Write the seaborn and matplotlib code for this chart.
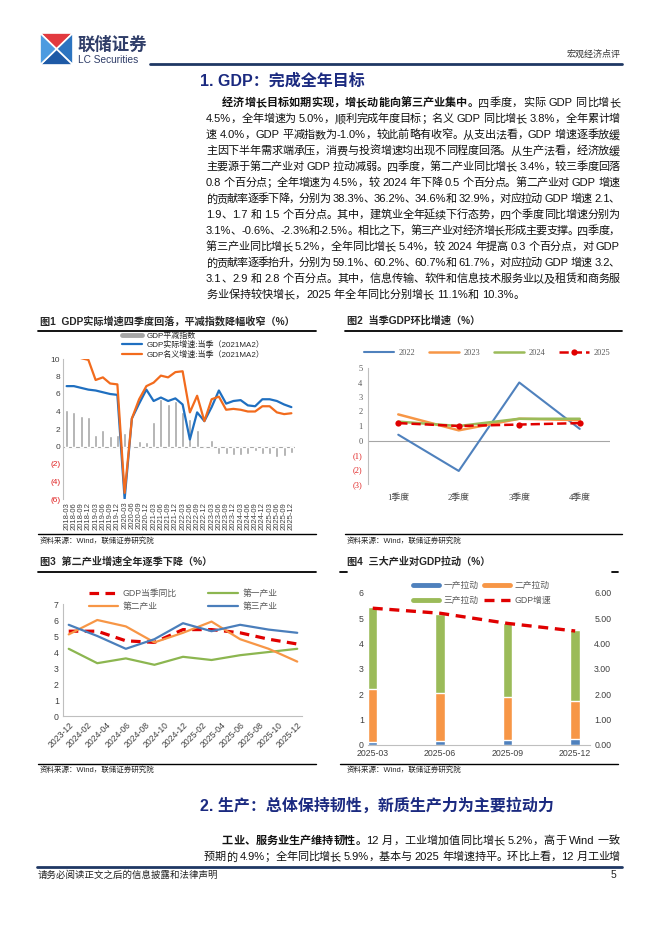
import re
import numpy as np
import seaborn as sns
import matplotlib
matplotlib.use("Agg")
import matplotlib.pyplot as plt
from matplotlib.lines import Line2D
from matplotlib.patches import Polygon

# ---------------- 图1 数据 ----------------
quarters = [f"{y}-{m}" for y in range(2018, 2026) for m in ("03", "06", "09", "12")]
deflator = [4.2, 4.0, 3.5, 3.4, 1.3, 1.9, 1.2, 1.3, 1.5, -0.2, 0.6, 0.5,
            2.8, 5.4, 4.9, 5.2, 3.9, 3.1, 1.9, -0.1, 0.8, -0.8, -0.8, -1.0,
            -1.0, -0.8, -0.5, -0.8, -0.8, -1.2, -1.1, -0.7]
real_gdp = [6.9, 6.9, 6.7, 6.5, 6.4, 6.2, 6.0, 5.9, -6.0, 3.2, 4.9, 6.5,
            5.2, 5.6, 5.2, 5.5, 4.8, 0.8, 3.9, 2.9, 4.5, 6.4, 4.9, 5.2,
            5.3, 4.7, 4.6, 5.4, 5.4, 5.2, 4.8, 4.5]
nominal_gdp = [10.5, 10.4, 10.1, 9.9, 7.6, 7.9, 7.2, 7.1, -5.3, 3.2, 5.4, 6.9,
               7.3, 8.1, 7.9, 8.5, 8.6, 3.9, 5.8, 2.9, 5.4, 5.7, 4.2, 4.3,
               4.2, 4.0, 4.0, 4.6, 4.6, 3.9, 3.7, 3.8]

# ---------------- 图2 数据 ----------------
season_labels = ["1季度", "2季度", "3季度", "4季度"]
qoq_2022 = [0.4, -2.1, 4.0, 0.8]
qoq_2023 = [1.8, 0.7, 1.5, 1.4]
qoq_2024 = [1.3, 1.0, 1.5, 1.5]
qoq_2025 = [1.2, 1.0, 1.1, 1.2]

# ---------------- 图3 数据 ----------------
month_pos = [0, 3, 6, 9, 12, 15, 18, 21, 24]   # 以2023-12为起点的月份
month_ticks = ["2023-12", "2024-02", "2024-04", "2024-06", "2024-08", "2024-10",
               "2024-12", "2025-02", "2025-04", "2025-06", "2025-08", "2025-10", "2025-12"]
gdp_yoy = [5.3, 5.3, 4.7, 4.6, 5.4, 5.4, 5.2, 4.8, 4.5]
ind1_yoy = [4.2, 3.3, 3.6, 3.2, 3.7, 3.5, 3.8, 4.0, 4.2]
ind2_yoy = [5.1, 6.0, 5.6, 4.6, 5.2, 5.9, 4.8, 4.2, 3.4]
ind3_yoy = [5.7, 5.0, 4.2, 4.8, 5.8, 5.3, 5.7, 5.4, 5.2]

# ---------------- 图4 数据 ----------------
periods4 = ["2025-03", "2025-06", "2025-09", "2025-12"]
pull1 = [0.13, 0.17, 0.20, 0.22]
pull2 = [2.1, 1.9, 1.7, 1.5]
pull3 = [3.2, 3.1, 2.9, 2.8]
gdp_cum = [5.4, 5.2, 4.8, 4.5]

W, H = 662, 936
NAVY = "#1F3864"
TITLE_BLUE = "#1B2A80"
RED_NEG = "#E02020"

sns.set_style("white")
plt.rcParams["font.family"] = ["Liberation Sans", "Noto Sans CJK SC"]
plt.rcParams["axes.unicode_minus"] = False
SERIF = ["Liberation Serif", "Noto Sans CJK SC"]

fig = plt.figure(figsize=(W / 100, H / 100), dpi=100)
renderer = fig.canvas.get_renderer()


def add_ax(x0, y0, x1, y1):
    return fig.add_axes([x0 / W, 1 - y1 / H, (x1 - x0) / W, (y1 - y0) / H])


def txt(x, y, s, **kw):
    kw.setdefault("va", "center")
    return fig.text(x / W, 1 - y / H, s, **kw)


def hline(x0, x1, y, color="black", lw=1.0):
    fig.add_artist(Line2D([x0 / W, x1 / W], [1 - y / H, 1 - y / H], color=color, lw=lw))


def paren_ticks(ax, ticks, pos_color="#404040", neg_color=RED_NEG, family=None, size=6):
    ax.set_yticks(ticks)
    labs = [f"({abs(t):g})" if t < 0 else f"{t:g}" for t in ticks]
    ax.set_yticklabels(labs, fontsize=size)
    for lab, t in zip(ax.get_yticklabels(), ticks):
        lab.set_color(neg_color if t < 0 else pos_color)
        if family:
            lab.set_family(family)


def para_line(x0, x1, y, segments, size=8.0, justify=True):
    # 逐字排版，两端对齐
    items = []
    for text, weight in segments:
        gap = False
        for tok in re.findall(r"[A-Za-z0-9.%\-]+|\s+|.", text):
            if tok.isspace():
                gap = True
                continue
            items.append((tok, weight, gap))
            gap = False
    em = size * 100 / 72
    objs, widths = [], []
    for tok, weight, _ in items:
        t = txt(0, y, tok, fontsize=size, fontweight=weight, color="#111111")
        if tok.isascii():
            w = t.get_window_extent(renderer).width * W / fig.bbox.width
        else:
            w = em
        objs.append(t)
        widths.append(w)
    space_w = em * 0.28
    natural = sum(widths) + space_w * sum(1 for it in items[1:] if it[2])
    n_gap = len(items) - 1
    extra = (x1 - x0 - natural) / n_gap if (justify and n_gap > 0) else 0
    x = x0
    for i, (t, w, it) in enumerate(zip(objs, widths, items)):
        if i > 0:
            x += extra + (space_w if it[2] else 0)
        t.set_x(x / W)
        x += w


# ---------------- 页眉 ----------------
cx, cy = 56.5, 49
sq = [(40, 33), (73, 33), (73, 65), (40, 65)]
tri_cols = ["#E23A3F", "#2C74C0", "#1E5AA6", "#4C9BE0"]  # 上 右 下 左
for i, c in enumerate(tri_cols):
    p0, p1 = sq[i], sq[(i + 1) % 4]
    pts = [(p0[0] / W, 1 - p0[1] / H), (p1[0] / W, 1 - p1[1] / H), (cx / W, 1 - cy / H)]
    fig.add_artist(Polygon(pts, closed=True, facecolor=c, edgecolor="white", lw=1.2))
txt(78, 44, "联储证券", fontsize=12.5, fontweight="bold", color="#2F3D68")
txt(78, 60, "LC Securities", fontsize=7.3, color="#2F3D68")
hline(150, 622, 63.5, NAVY, 2.0)
txt(621, 54, "宏观经济点评", fontsize=6.5, ha="right", color="#333333")

txt(200, 81, "1. GDP：完成全年目标", fontsize=11.5, fontweight="bold", color=TITLE_BLUE)

para1 = [
    "4.5%，全年增速为 5.0%，顺利完成年度目标；名义 GDP 同比增长 3.8%，全年累计增",
    "速 4.0%，GDP 平减指数为-1.0%，较此前略有收窄。从支出法看，GDP 增速逐季放缓",
    "主因下半年需求端承压，消费与投资增速均出现不同程度回落。从生产法看，经济放缓",
    "主要源于第二产业对 GDP 拉动减弱。四季度，第二产业同比增长 3.4%，较三季度回落",
    "0.8 个百分点；全年增速为 4.5%，较 2024 年下降 0.5 个百分点。第二产业对 GDP 增速",
    "的贡献率逐季下降，分别为 38.3%、36.2%、34.6%和 32.9%，对应拉动 GDP 增速 2.1、",
    "1.9、1.7 和 1.5 个百分点。其中，建筑业全年延续下行态势，四个季度同比增速分别为",
    "3.1%、-0.6%、-2.3%和-2.5%。相比之下，第三产业对经济增长形成主要支撑。四季度，",
    "第三产业同比增长 5.2%，全年同比增长 5.4%，较 2024 年提高 0.3 个百分点，对 GDP",
    "的贡献率逐季抬升，分别为 59.1%、60.2%、60.7%和 61.7%，对应拉动 GDP 增速 3.2、",
    "3.1、2.9 和 2.8 个百分点。其中，信息传输、软件和信息技术服务业以及租赁和商务服",
    "务业保持较快增长，2025 年全年同比分别增长 11.1%和 10.3%。",
]
para_line(222, 620, 103, [("经济增长目标如期实现，增长动能向第三产业集中。", "bold"),
                          ("四季度，实际 GDP 同比增长", "normal")])
for i, s in enumerate(para1):
    para_line(206, 620, 103 + 16 * (i + 1), [(s, "normal")], justify=(i < len(para1) - 1))

# ---------------- 图表标题与框线 ----------------
LX0, LX1, RX0, RX1 = 38, 316, 345, 622
txt(40, 321, "图1  GDP实际增速四季度回落，平减指数降幅收窄（%）", fontsize=7.3, fontweight="bold")
txt(347, 321, "图2  当季GDP环比增速（%）", fontsize=7.3, fontweight="bold")
hline(LX0, LX1, 330.5, "black", 1.3)
hline(RX0, RX1, 330.5, "black", 1.3)
hline(LX0, LX1, 534, "black", 1.0)
hline(RX0, RX1, 534, "black", 1.0)
txt(40, 541, "资料来源：Wind，联储证券研究院", fontsize=5.4)
txt(347, 541, "资料来源：Wind，联储证券研究院", fontsize=5.4)

txt(40, 562, "图3  第二产业增速全年逐季下降（%）", fontsize=7.3, fontweight="bold")
txt(347, 562, "图4  三大产业对GDP拉动（%）", fontsize=7.3, fontweight="bold")
hline(LX0, LX1, 571.5, "black", 1.3)
hline(340, 347, 571.5, "black", 1.3)
hline(612, 618, 571.5, "black", 1.3)
hline(LX0, LX1, 763.5, "black", 1.0)
hline(340, 618, 763.5, "black", 1.0)
txt(40, 770, "资料来源：Wind，联储证券研究院", fontsize=5.4)
txt(347, 770, "资料来源：Wind，联储证券研究院", fontsize=5.4)

# ---------------- 图1 ----------------
ax1 = add_ax(63, 359, 295, 499)
idx1 = np.arange(len(quarters))
c_gray, c_blue, c_orange = "#A6A6A6", "#1F6FC0", "#F26B1D"
sns.barplot(x=idx1, y=deflator, native_scale=True, width=0.4, color=c_gray,
            saturation=1, errorbar=None, ax=ax1)
sns.lineplot(x=idx1, y=real_gdp, color=c_blue, lw=1.6, ax=ax1)
sns.lineplot(x=idx1, y=nominal_gdp, color=c_orange, lw=1.6, ax=ax1)
ax1.set_xlim(-0.5, len(quarters) - 0.5)
ax1.set_ylim(-6, 10)
ax1.axhline(0, color="#A6A6A6", lw=0.8, zorder=0)
ax1.set_xticks(idx1)
ax1.set_xticklabels(quarters, rotation=90, fontsize=5.5, color="#404040")
paren_ticks(ax1, list(range(-6, 11, 2)), size=6)
for s in ["top", "right", "bottom"]:
    ax1.spines[s].set_visible(False)
ax1.spines["left"].set_color("#BFBFBF")
ax1.spines["left"].set_linewidth(0.8)
ax1.tick_params(axis="both", length=0, pad=2)
h1 = [Line2D([0], [0], color=c_gray, lw=3.5),
      Line2D([0], [0], color=c_blue, lw=1.6),
      Line2D([0], [0], color=c_orange, lw=1.6)]
fig.legend(h1, ["GDP平减指数", "GDP实际增速:当季（2021MA2）", "GDP名义增速:当季（2021MA2）"],
           loc="center left", bbox_to_anchor=(118 / W, 1 - 345 / H), frameon=False,
           fontsize=5.8, handlelength=2.5, labelspacing=0.15, borderpad=0,
           handletextpad=0.5)

# ---------------- 图2 ----------------
ax2 = add_ax(368, 368, 610, 484)
idx2 = np.arange(len(season_labels))
c22, c23, c24, c25 = "#4F81BD", "#F79646", "#9BBB59", "#E00000"
sns.lineplot(x=idx2, y=qoq_2022, color=c22, lw=1.5, ax=ax2)
sns.lineplot(x=idx2, y=qoq_2023, color=c23, lw=1.8, ax=ax2)
sns.lineplot(x=idx2, y=qoq_2024, color=c24, lw=1.8, ax=ax2)
sns.lineplot(x=idx2, y=qoq_2025, color=c25, lw=1.8, ls="--", marker="o", ms=4.5,
             markeredgewidth=0, ax=ax2)
ax2.set_xlim(-0.5, 3.5)
ax2.set_ylim(-3, 5)
ax2.axhline(0, color="#A6A6A6", lw=0.8, zorder=0)
ax2.set_xticks(idx2)
ax2.set_xticklabels(season_labels, fontsize=6.3, color="#404040", family=SERIF)
paren_ticks(ax2, list(range(-3, 6)), pos_color="#595959", family=SERIF, size=6)
for s in ["top", "right", "bottom"]:
    ax2.spines[s].set_visible(False)
ax2.spines["left"].set_color("#BFBFBF")
ax2.spines["left"].set_linewidth(0.8)
ax2.tick_params(axis="x", length=0, pad=7)
ax2.tick_params(axis="y", length=2, color="#BFBFBF", pad=2)
h2 = [Line2D([0], [0], color=c22, lw=1.5),
      Line2D([0], [0], color=c23, lw=1.8),
      Line2D([0], [0], color=c24, lw=1.8),
      Line2D([0], [0], color=c25, lw=1.8, ls="--", marker="o", ms=4.5, markeredgewidth=0)]
leg2 = fig.legend(h2, ["2022", "2023", "2024", "2025"], loc="center", ncol=4,
                  bbox_to_anchor=(487 / W, 1 - 353 / H), frameon=False, fontsize=6,
                  handlelength=3.6, columnspacing=1.6, handletextpad=0.6, borderpad=0)
for t in leg2.get_texts():
    t.set_family(SERIF)
    t.set_color("#595959")

# ---------------- 图3 ----------------
ax3 = add_ax(63, 604, 302, 716)
cg, c1, c2, c3 = "#E00000", "#8CB650", "#F79646", "#4A7EBB"
sns.lineplot(x=month_pos, y=gdp_yoy, color=cg, lw=2.3, ls=(0, (3, 2)), ax=ax3)
sns.lineplot(x=month_pos, y=ind1_yoy, color=c1, lw=1.6, ax=ax3)
sns.lineplot(x=month_pos, y=ind2_yoy, color=c2, lw=1.6, ax=ax3)
sns.lineplot(x=month_pos, y=ind3_yoy, color=c3, lw=1.6, ax=ax3)
ax3.set_xlim(-0.6, 24.5)
ax3.set_ylim(0, 7)
ax3.set_yticks(range(0, 8))
ax3.set_yticklabels([str(v) for v in range(0, 8)], fontsize=6.3, color="#404040")
ax3.set_xticks(np.arange(0, 25, 2))
ax3.set_xticklabels(month_ticks, rotation=45, ha="right", rotation_mode="anchor",
                    fontsize=6.2, color="#404040")
for s in ["top", "right"]:
    ax3.spines[s].set_visible(False)
for s in ["left", "bottom"]:
    ax3.spines[s].set_color("#BFBFBF")
    ax3.spines[s].set_linewidth(0.8)
ax3.tick_params(axis="x", length=2, color="#BFBFBF", pad=1)
ax3.tick_params(axis="y", length=0, pad=3)
h3 = [Line2D([0], [0], color=cg, lw=2.3, ls=(0, (3, 2))),
      Line2D([0], [0], color=c2, lw=1.6),
      Line2D([0], [0], color=c1, lw=1.6),
      Line2D([0], [0], color=c3, lw=1.6)]
leg3 = fig.legend(h3, ["GDP当季同比", "第二产业", "第一产业", "第三产业"], loc="center",
                  ncol=2, bbox_to_anchor=(183 / W, 1 - 600 / H), frameon=False,
                  fontsize=6.3, handlelength=3.4, columnspacing=3.6, labelspacing=0.45,
                  handletextpad=0.5, borderpad=0)
for t in leg3.get_texts():
    t.set_color("#595959")

# ---------------- 图4 ----------------
ax4 = add_ax(368, 593, 590, 745)
idx4 = np.arange(len(periods4))
top1 = np.array(pull1)
top2 = top1 + np.array(pull2)
top3 = top2 + np.array(pull3)
cb1, cb2, cb3, cl = "#4F81BD", "#F79646", "#9BBB59", "#E00000"
sns.barplot(x=idx4, y=top3, native_scale=True, width=0.14, color=cb3, saturation=1,
            errorbar=None, ax=ax4)
sns.barplot(x=idx4, y=top2, native_scale=True, width=0.14, color=cb2, saturation=1,
            errorbar=None, ax=ax4)
sns.barplot(x=idx4, y=top1, native_scale=True, width=0.14, color=cb1, saturation=1,
            errorbar=None, ax=ax4)
ax4.set_xlim(-0.07, 3.22)
ax4.set_ylim(0, 6)
ax4.set_yticks(range(0, 7))
ax4.set_yticklabels([str(v) for v in range(0, 7)], fontsize=6.3, color="#404040")
ax4.set_xticks(idx4)
ax4.set_xticklabels(periods4, fontsize=6.3, color="#404040")
ax4r = ax4.twinx()
sns.lineplot(x=idx4, y=gdp_cum, color=cl, lw=2.4, ls=(0, (3, 2)), ax=ax4r)
ax4r.set_ylim(0, 6)
ax4r.set_yticks(range(0, 7))
ax4r.set_yticklabels([f"{v:.2f}" for v in range(0, 7)], fontsize=6.3, color="#404040")
ax4r.set_xlim(-0.07, 3.22)
for a in (ax4, ax4r):
    for s in ["top", "right", "left"]:
        a.spines[s].set_visible(False)
    a.tick_params(length=0, pad=3)
ax4r.spines["bottom"].set_visible(False)
ax4.spines["bottom"].set_color("#BFBFBF")
ax4.spines["bottom"].set_linewidth(0.8)
h4 = [Line2D([0], [0], color=cb1, lw=3.5),
      Line2D([0], [0], color=cb3, lw=3.5),
      Line2D([0], [0], color=cb2, lw=3.5),
      Line2D([0], [0], color=cl, lw=2.4, ls=(0, (3, 2)))]
leg4 = fig.legend(h4, ["一产拉动", "三产拉动", "二产拉动", "GDP增速"], loc="center",
                  ncol=2, bbox_to_anchor=(482 / W, 1 - 593 / H), frameon=False,
                  fontsize=6.3, handlelength=3.0, columnspacing=0.6, labelspacing=0.6,
                  handletextpad=0.5, borderpad=0)
for t in leg4.get_texts():
    t.set_color("#595959")

# ---------------- 第二节与页脚 ----------------
txt(200, 806, "2. 生产：总体保持韧性，新质生产力为主要拉动力", fontsize=11.5,
    fontweight="bold", color=TITLE_BLUE)
para_line(222, 620, 841, [("工业、服务业生产维持韧性。", "bold"),
                          ("12 月，工业增加值同比增长 5.2%，高于 Wind 一致", "normal")])
para_line(204, 620, 857, [("预期的 4.9%；全年同比增长 5.9%，基本与 2025 年增速持平。环比上看，12 月工业增", "normal")])
hline(37, 622, 866.5, NAVY, 2.0)
txt(38, 875, "请务必阅读正文之后的信息披露和法律声明", fontsize=6.8, color="#222222")
txt(616, 875, "5", fontsize=7.5, ha="right", color="#222222")

fig.savefig("out.png", dpi=100)
